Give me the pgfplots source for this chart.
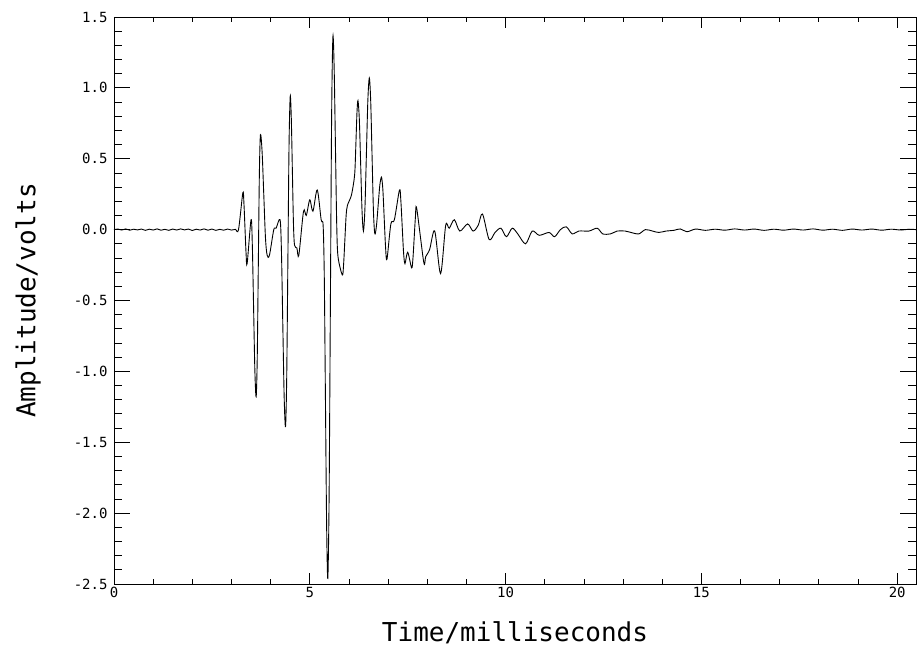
\documentclass[border=0pt]{standalone}
\usepackage{fontspec}
\setmainfont{DejaVu Sans Mono}
\usepackage{pgfplots}
\pgfplotsset{compat=1.18}
\usetikzlibrary{calc}
\begin{document}
\begin{tikzpicture}
\begin{axis}[
 scale only axis, width=802bp, height=567bp,
 xmin=0, xmax=20.48, ymin=-2.5, ymax=1.5,
 xtick={0,5,10,15,20}, minor x tick num=4,
 ytick={-2.5,-2,-1.5,-1,-0.5,0,0.5,1,1.5}, minor y tick num=4,
 tick align=inside, tick pos=both,
 xtick style={/pgfplots/major tick length=11bp,/pgfplots/minor tick length=5.5bp, line width=0.8bp, black},
 ytick style={/pgfplots/major tick length=16bp,/pgfplots/minor tick length=8bp, line width=0.8bp, black},
 axis line style={line width=0.8bp},
 tick label style={font=\fontsize{14bp}{16bp}\selectfont},
 /pgf/number format/assume math mode=true,
 yticklabel style={/pgf/number format/fixed, /pgf/number format/fixed zerofill, /pgf/number format/precision=1, xshift=-3bp},
 xlabel={Time/milliseconds}, ylabel={Amplitude/volts},
 label style={font=\fontsize{26bp}{28bp}\selectfont},
 xlabel style={at={(axis description cs:0.5,-0.086)}, anchor=center},
 ylabel style={at={(axis description cs:-0.107,0.5)}, anchor=center},
]
\addplot[black, line width=0.9bp, smooth, tension=0.5] coordinates {
(0.0,0.000)(0.1,0.004)(0.2,-0.003)(0.3,0.005)(0.4,-0.004)(0.5,0.003)(0.6,-0.002)(0.7,0.004)(0.8,-0.005)(0.9,0.003)
(1.0,-0.003)(1.1,0.005)(1.2,-0.004)(1.3,0.002)(1.4,-0.005)(1.5,0.004)(1.6,-0.003)(1.7,0.005)(1.8,-0.002)(1.9,0.004)
(2.0,-0.006)(2.1,0.003)(2.2,-0.003)(2.3,0.005)(2.4,-0.004)(2.5,0.004)(2.6,-0.005)(2.7,0.002)(2.8,-0.004)(2.9,0.004)
(3.0,-0.003)(3.1,0.002)
(3.18,0.00)
(3.29,0.26)
(3.3175,0.187)(3.345,0.01)(3.3725,-0.167)
(3.40,-0.24)
(3.50,0.07)
(3.5325,-0.113)(3.565,-0.555)(3.5975,-0.998)
(3.63,-1.18)
(3.6575,-0.910)(3.685,-0.255)(3.7125,0.400)
(3.74,0.67)
(3.7825,0.546)(3.825,0.245)(3.8675,-0.056)
(3.91,-0.18)
(3.97,-0.18)
(4.08,0.00)
(4.14,0.01)
(4.24,0.07)
(4.275,-0.143)(4.31,-0.66)(4.345,-1.177)
(4.38,-1.39)
(4.41,-1.050)(4.44,-0.225)(4.47,0.600)
(4.50,0.94)
(4.5275,0.787)(4.555,0.415)(4.5825,0.043)
(4.61,-0.11)
(4.67,-0.13)
(4.72,-0.18)
(4.84,0.13)
(4.91,0.10)
(5.00,0.21)
(5.08,0.13)
(5.19,0.28)
(5.29,0.07)
(5.34,0.03)
(5.37,-0.334)(5.40,-1.215)(5.43,-2.096)
(5.46,-2.46)
(5.4925,-1.902)(5.525,-0.55)(5.5575,0.802)
(5.59,1.36)
(5.6225,1.134)(5.655,0.585)(5.6875,0.036)
(5.72,-0.19)
(5.83,-0.32)
(5.8625,-0.248)(5.895,-0.075)(5.9275,0.098)
(5.96,0.17)
(6.06,0.24)
(6.13,0.35)
(6.155,0.432)(6.18,0.63)(6.205,0.828)
(6.23,0.91)
(6.265,0.776)(6.30,0.45)(6.335,0.124)
(6.37,-0.01)
(6.4075,0.148)(6.445,0.53)(6.4825,0.912)
(6.52,1.07)
(6.555,0.909)(6.59,0.52)(6.625,0.131)
(6.66,-0.03)
(6.7025,0.028)(6.745,0.17)(6.7875,0.312)
(6.83,0.37)
(6.865,0.285)(6.90,0.08)(6.935,-0.125)
(6.97,-0.21)
(7.07,0.04)
(7.16,0.07)
(7.29,0.28)
(7.325,0.204)(7.36,0.02)(7.395,-0.164)
(7.43,-0.24)
(7.50,-0.16)
(7.60,-0.27)
(7.6325,-0.209)(7.665,-0.06)(7.6975,0.089)
(7.73,0.15)
(7.91,-0.23)
(7.96,-0.19)
(8.06,-0.14)
(8.19,-0.01)
(8.34,-0.31)
(8.47,0.03)
(8.56,0.01)
(8.69,0.07)
(8.83,-0.01)
(9.03,0.04)
(9.17,-0.01)
(9.30,0.03)
(9.41,0.11)
(9.58,-0.07)
(9.73,-0.02)
(9.88,0.01)
(10.02,-0.05)
(10.17,0.01)
(10.31,-0.03)
(10.51,-0.10)
(10.68,-0.01)
(10.86,-0.04)
(11.11,-0.02)
(11.25,-0.05)
(11.40,0.00)
(11.55,0.02)
(11.70,-0.03)
(11.87,-0.01)
(12.13,-0.01)
(12.34,0.01)
(12.48,-0.03)
(12.68,-0.03)
(12.85,-0.01)
(13.05,-0.01)(13.2,-0.02)(13.40,-0.03)(13.57,0.00)(13.75,-0.01)(13.91,-0.02)(14.1,-0.01)(14.3,-0.005)(14.46,0.005)(14.63,-0.015)
(14.85,0.004)(15.1,-0.005)(15.35,0.003)(15.6,-0.004)(15.85,0.005)(16.1,-0.003)(16.35,0.004)(16.6,-0.005)(16.85,0.003)
(17.1,-0.004)(17.35,0.004)(17.6,-0.003)(17.85,0.005)(18.1,-0.004)(18.35,0.003)(18.6,-0.005)(18.85,0.004)(19.1,-0.003)
(19.35,0.004)(19.6,-0.004)(19.85,0.003)(20.1,-0.003)(20.3,0.003)(20.48,0.0)
};
\end{axis}
\pgfresetboundingbox
\path[use as bounding box] ($(current axis.south west)+(-114bp,-70bp)$) rectangle ($(current axis.north east)+(1bp,17bp)$);
\end{tikzpicture}
\end{document}
